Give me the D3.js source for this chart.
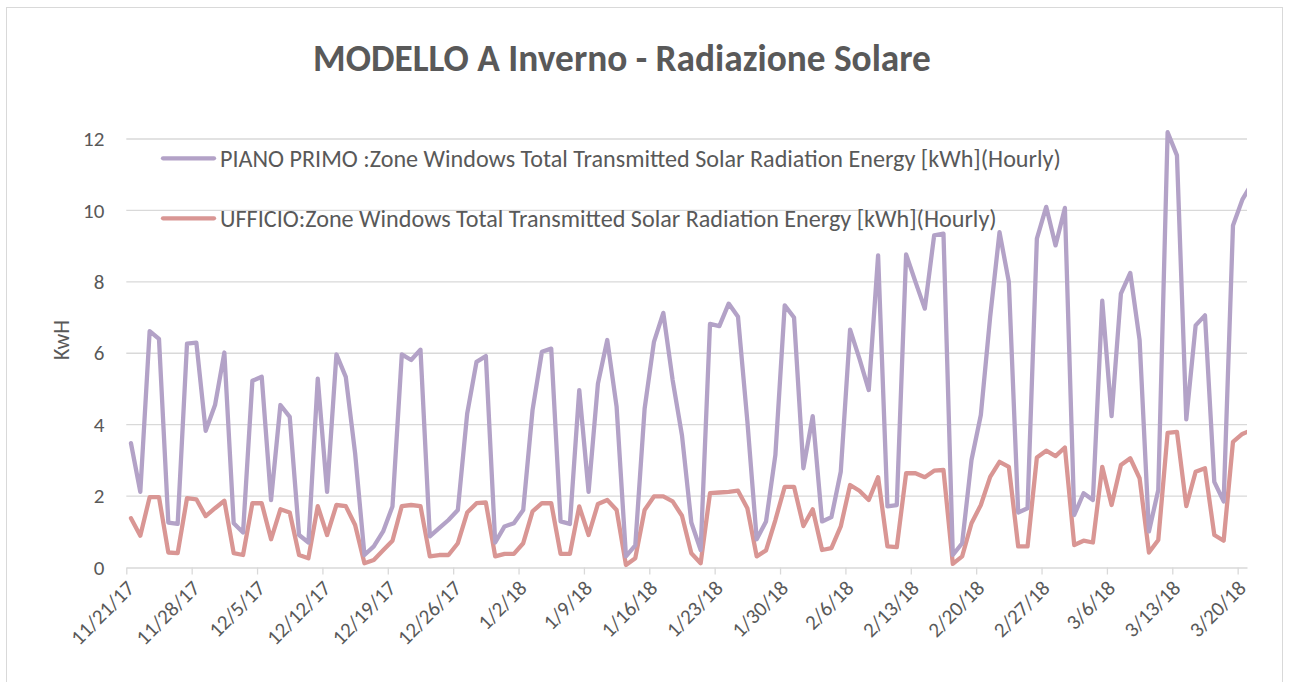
<!DOCTYPE html>
<html>
<head>
<meta charset="utf-8">
<script src="https://cdn.jsdelivr.net/npm/d3@7"></script>
<style>
  html, body { margin: 0; padding: 0; background: #fff; }
  svg { display: block; }
  text { font-family: Carlito, Lato, "Open Sans", sans-serif; fill: #595959; }
</style>
</head>
<body>
<svg id="chart" width="1292" height="682"></svg>
<script>
// ---------- data ----------
const title = "MODELLO A Inverno - Radiazione Solare";
const yLabel = "KwH";
const seriesNames = [
  "PIANO PRIMO :Zone Windows Total Transmitted Solar Radiation Energy [kWh](Hourly)",
  "UFFICIO:Zone Windows Total Transmitted Solar Radiation Energy [kWh](Hourly)"
];
const seriesColors = ["#B3A2C7", "#D99694"];
const startDay = "11/21/17";
const endDay = "3/21/18";
const tickLabels = ["11/21/17","11/28/17","12/5/17","12/12/17","12/19/17","12/26/17","1/2/18","1/9/18",
  "1/16/18","1/23/18","1/30/18","2/6/18","2/13/18","2/20/18","2/27/18","3/6/18","3/13/18","3/20/18"];
const yTicks = [0, 2, 4, 6, 8, 10, 12];

const pianoPrimo = [
  3.48, 2.12, 6.62, 6.40, 1.26, 1.22, 6.27, 6.30, 3.83, 4.55,
  6.02, 1.24, 0.98, 5.23, 5.34, 1.89, 4.55, 4.22, 0.91, 0.70,
  5.29, 2.12, 5.97, 5.34, 3.20, 0.35, 0.59, 1.01, 1.71, 5.97,
  5.81, 6.10, 0.87, 1.10, 1.33, 1.61, 4.31, 5.76, 5.92, 0.70,
  1.15, 1.24, 1.61, 4.41, 6.04, 6.13, 1.29, 1.22, 4.97, 2.12,
  5.15, 6.37, 4.50, 0.31, 0.62, 4.45, 6.32, 7.13, 5.25, 3.70,
  1.26, 0.49, 6.82, 6.76, 7.39, 7.02, 4.10, 0.79, 1.29, 3.15,
  7.34, 7.00, 2.78, 4.24, 1.29, 1.41, 2.68, 6.66, 5.85, 4.97,
  8.74, 1.71, 1.75, 8.77, 8.00, 7.25, 9.30, 9.35, 0.35, 0.68,
  3.01, 4.27, 7.02, 9.39, 8.00, 1.54, 1.66, 9.21, 10.10, 9.02,
  10.07, 1.47, 2.08, 1.89, 7.47, 4.24, 7.67, 8.25, 6.37, 1.01,
  2.17, 12.19, 11.54, 4.15, 6.78, 7.06, 2.40, 1.85, 9.58, 10.30,
  10.75
];
const ufficio = [
  1.38, 0.89, 1.97, 1.97, 0.42, 0.40, 1.94, 1.91, 1.44, 1.66,
  1.87, 0.40, 0.35, 1.80, 1.80, 0.79, 1.63, 1.54, 0.35, 0.26,
  1.72, 0.91, 1.75, 1.72, 1.19, 0.12, 0.21, 0.48, 0.75, 1.72,
  1.75, 1.72, 0.31, 0.35, 0.35, 0.68, 1.54, 1.80, 1.82, 0.31,
  0.38, 0.38, 0.68, 1.57, 1.80, 1.80, 0.38, 0.38, 1.71, 0.91,
  1.78, 1.89, 1.61, 0.07, 0.26, 1.61, 1.99, 1.99, 1.85, 1.45,
  0.40, 0.12, 2.08, 2.10, 2.12, 2.15, 1.66, 0.31, 0.48, 1.33,
  2.26, 2.26, 1.16, 1.63, 0.49, 0.54, 1.15, 2.31, 2.15, 1.89,
  2.53, 0.59, 0.57, 2.64, 2.64, 2.53, 2.71, 2.73, 0.10, 0.31,
  1.24, 1.75, 2.54, 2.96, 2.82, 0.59, 0.59, 3.08, 3.27, 3.12,
  3.36, 0.63, 0.75, 0.70, 2.82, 1.75, 2.87, 3.06, 2.50, 0.42,
  0.77, 3.77, 3.80, 1.72, 2.68, 2.78, 0.91, 0.75, 3.52, 3.74,
  3.85
];

// ---------- layout ----------
const parse = d3.timeParse("%m/%d/%y");
const fmt = d3.timeFormat("%-m/%-d/%y");
const plot = { left: 126.3, right: 1247, top: 139, bottom: 567.5 };
const fontStack = "Carlito, Lato, 'Open Sans', sans-serif";

const svg = d3.select("#chart");
const gridColor = "#D9D9D9";

// outer border
svg.append("rect")
  .attr("x", 6.5).attr("y", 7.5).attr("width", 1276).attr("height", 690)
  .attr("fill", "none").attr("stroke", gridColor).attr("stroke-width", 1);

const t0 = parse(startDay), t1 = parse(endDay);
const x = d3.scaleTime().domain([t0, t1]).range([plot.left, plot.right]);
const y = d3.scaleLinear().domain([0, 12]).range([plot.bottom, plot.top]);

// gridlines
svg.append("g")
  .selectAll("line").data(yTicks.filter(v => v > 0)).join("line")
  .attr("x1", plot.left).attr("x2", plot.right)
  .attr("y1", d => y(d)).attr("y2", d => y(d))
  .attr("stroke", gridColor).attr("stroke-width", 1.3);

// y axis labels
const yAxis = svg.append("g").attr("transform", `translate(${plot.left},0)`)
  .call(d3.axisLeft(y).tickValues(yTicks).tickSize(0).tickPadding(22));
yAxis.select(".domain").remove();
yAxis.selectAll("text").style("font-size", "21px").attr("fill", "#595959")
  .style("font-family", fontStack);

// x axis
const xTickDates = tickLabels.map(parse);
const xAxis = svg.append("g").attr("transform", `translate(0,${plot.bottom})`)
  .call(d3.axisBottom(x).tickValues(xTickDates).tickFormat(fmt).tickSize(7).tickSizeOuter(0));
xAxis.select(".domain").attr("stroke", gridColor).attr("stroke-width", 1.5);
xAxis.selectAll(".tick line").attr("stroke", gridColor).attr("stroke-width", 1.3);
xAxis.selectAll(".tick text")
  .style("font-size", "21px").attr("fill", "#595959")
  .style("font-family", fontStack)
  .attr("text-anchor", "end")
  .attr("dy", null).attr("y", null)
  .attr("transform", "translate(9,22) rotate(-45)");

// lines
svg.append("defs").append("clipPath").attr("id", "clip")
  .append("rect").attr("x", plot.left).attr("y", 0)
  .attr("width", plot.right - plot.left).attr("height", 682);

const line = d3.line()
  .x((d, i) => x(d3.timeHour.offset(d3.timeDay.offset(t0, i), 12)))
  .y(d => y(d));

const g = svg.append("g").attr("clip-path", "url(#clip)");
[ufficio, pianoPrimo].forEach((s, k) => {
  g.append("path").datum(s)
    .attr("d", line)
    .attr("fill", "none")
    .attr("stroke", seriesColors[1 - k])
    .attr("stroke-width", 4.3)
    .attr("stroke-linejoin", "round")
    .attr("stroke-linecap", "round");
});

// legend
const legendY = [158.3, 218.3];
const legendTargetW = [841, 777];
seriesNames.forEach((name, k) => {
  svg.append("line")
    .attr("x1", 163).attr("x2", 214)
    .attr("y1", legendY[k]).attr("y2", legendY[k])
    .attr("stroke", seriesColors[k]).attr("stroke-width", 4.3)
    .attr("stroke-linecap", "round");
  const t = svg.append("text")
    .attr("x", 220).attr("y", legendY[k]).attr("dy", "0.35em")
    .style("font-size", "20px").text(name);
  const w = t.node().getComputedTextLength();
  t.style("font-size", (20 * legendTargetW[k] / w).toFixed(2) + "px");
});

// title
const tt = svg.append("text")
  .attr("x", 622).attr("y", 71).attr("text-anchor", "middle")
  .style("font-size", "28px").style("font-weight", "bold").text(title);
const tw = tt.node().getComputedTextLength();
tt.style("font-size", (28 * 618 / tw).toFixed(2) + "px");

// y label
svg.append("text")
  .attr("transform", "translate(69,340) rotate(-90)")
  .attr("text-anchor", "middle")
  .style("font-size", "22px").text(yLabel);
</script>
</body>
</html>
